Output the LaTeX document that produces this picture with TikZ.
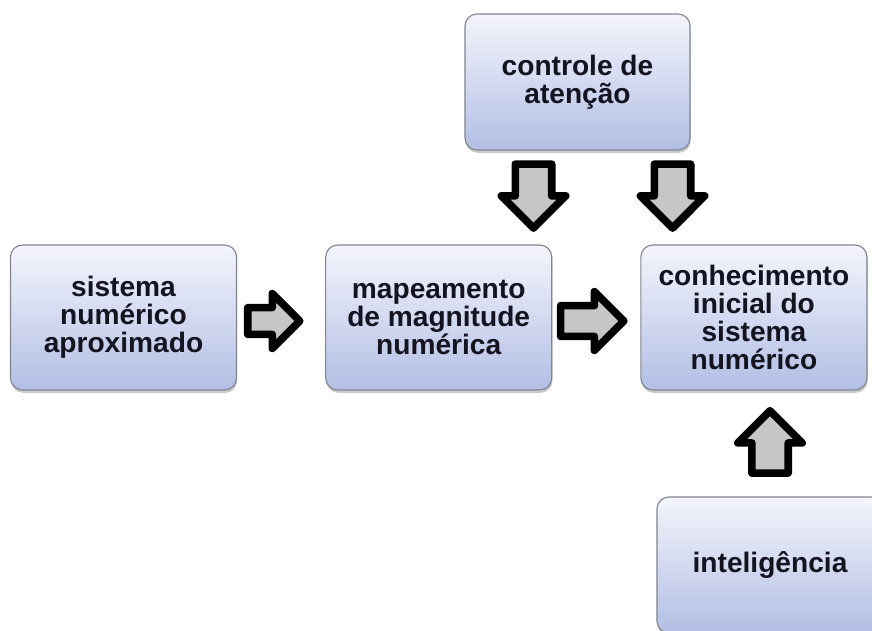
\documentclass[tikz,border=0pt]{standalone}
\usepackage{fontspec}
\setmainfont{Liberation Sans}
\usepackage{xcolor}
\usepackage{tikz}
\usetikzlibrary{calc,positioning,shapes,shapes.arrows,shadows}
\definecolor{BoxTop}{RGB}{244,245,252}
\definecolor{BoxBottom}{RGB}{178,190,228}
\definecolor{BoxLine}{RGB}{130,133,145}
\definecolor{ArrowFill}{RGB}{198,198,198}
\definecolor{TextDark}{RGB}{20,20,32}

\begin{document}
\begin{tikzpicture} [x=0.025cm, y=-0.025cm, text=TextDark,
	   every node/.style={font=\bfseries\fontsize{20pt}{20pt}\selectfont},
	   infobox/.style 2 args = {rectangle, rounded corners=0.3cm,
	                            minimum width=#1, minimum height=#2,
	                            line width=0.8pt, draw=BoxLine, top color=BoxTop,
	                            bottom color=BoxBottom, align=center,
	                            drop shadow={shadow xshift=0.5pt, shadow yshift=-2pt,
	                                         opacity=0.35, fill=black!60}},
	   flowarrow/.style 2 args = {single arrow, draw=black, fill=ArrowFill,
	                              line width=0.19cm, line join=round,
	                              inner xsep=0pt, inner ysep=#2,
	                              minimum height=#1, minimum width=0pt,
	                              single arrow head extend=0.35cm}]
	\useasboundingbox (0,0) rectangle (872,630);
	\fill[white] (0,0) rectangle (872,630);

	%% Boxes
	\node [infobox={5.65cm}{3.625cm}] (sna) at (123.5,317.5) {sistema\\numérico\\aproximado};
	\node [infobox={5.65cm}{3.625cm}, right=2.2cm of sna] (mapa) {mapeamento\\de magnitude\\numérica};
	\node [infobox={5.65cm}{3.625cm}, right=2.2cm of mapa] (conh) {conhecimento\\inicial do\\sistema\\numérico};
	\node [infobox={5.625cm}{3.4cm}] (atencao) at (577.5,82) {controle de\\atenção};
	\node [infobox={5.65cm}{3.4cm}] (intel) at (770,565) {inteligência};

	%% Block arrows
	\node [flowarrow={1.3cm}{0.24cm}] (sna_mapa) at (267,321) {};
	\node [flowarrow={1.58cm}{0.29cm}] (mapa_conh) at (584.5,321) {};
	\node [flowarrow={1.6cm}{0.36cm}, rotate=-90] (atencao_mapa) at (533.5,187) {};
	\node [flowarrow={1.6cm}{0.36cm}, rotate=-90] (atencao_conh) at (672.5,187) {};
	\node [flowarrow={1.56cm}{0.36cm}, rotate=90] (intel_conh) at (770,451) {};
\end{tikzpicture}
\end{document}
